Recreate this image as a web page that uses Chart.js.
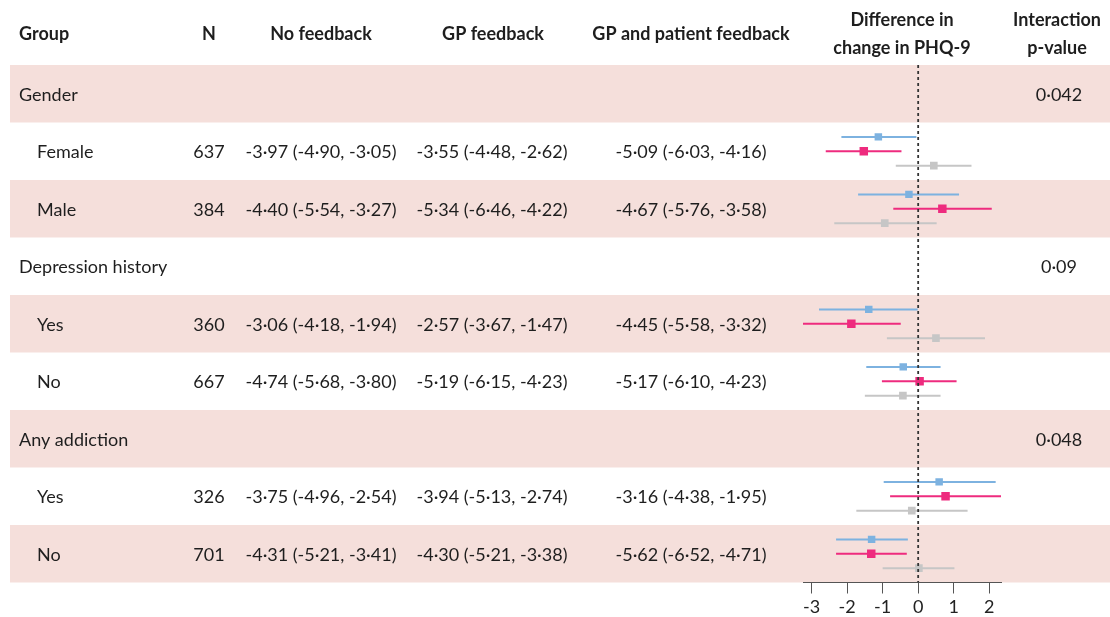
<!DOCTYPE html>
<html>
<head>
<meta charset="utf-8">
<script src="https://cdn.jsdelivr.net/npm/chart.js@4/dist/chart.umd.min.js"></script>
<style>
  html, body { margin: 0; padding: 0; background: #fff; }
  canvas { display: block; }
</style>
</head>
<body>
<canvas id="forest" width="1110" height="617"></canvas>
<script>
// ---- Table rows -------------------------------------------------------
const rowLabels = ['Gender', 'Female', 'Male', 'Depression history', 'Yes', 'No', 'Any addiction', 'Yes', 'No'];
const rowIsHeading = [true, false, false, true, false, false, true, false, false];
const rowN = [null, 637, 384, null, 360, 667, null, 326, 701];

// Mean change in PHQ-9 (95% CI) per arm
const noFbMean = [null, -3.97, -4.40, null, -3.06, -4.74, null, -3.75, -4.31];
const noFbLow  = [null, -4.90, -5.54, null, -4.18, -5.68, null, -4.96, -5.21];
const noFbHigh = [null, -3.05, -3.27, null, -1.94, -3.80, null, -2.54, -3.41];

const gpMean = [null, -3.55, -5.34, null, -2.57, -5.19, null, -3.94, -4.30];
const gpLow  = [null, -4.48, -6.46, null, -3.67, -6.15, null, -5.13, -5.21];
const gpHigh = [null, -2.62, -4.22, null, -1.47, -4.23, null, -2.74, -3.38];

const bothMean = [null, -5.09, -4.67, null, -4.45, -5.17, null, -3.16, -5.62];
const bothLow  = [null, -6.03, -5.76, null, -5.58, -6.10, null, -4.38, -6.52];
const bothHigh = [null, -4.16, -3.58, null, -3.32, -4.23, null, -1.95, -4.71];

const pValueLabels = ['0·042', null, null, '0·09', null, null, '0·048', null, null];

// ---- Differences in change (forest plot) -----------------------------
// GP and patient feedback vs no feedback
const diffBothNoneMean = [null, -1.12, -0.26, null, -1.39, -0.42, null, 0.59, -1.31];
const diffBothNoneLow  = [null, -2.16, -1.69, null, -2.79, -1.46, null, -0.97, -2.31];
const diffBothNoneHigh = [null, -0.05, 1.15, null, 0.00, 0.63, null, 2.18, -0.29];
// GP and patient feedback vs GP feedback
const diffBothGpMean = [null, -1.53, 0.68, null, -1.88, 0.04, null, 0.77, -1.32];
const diffBothGpLow  = [null, -2.60, -0.70, null, -3.26, -1.02, null, -0.79, -2.31];
const diffBothGpHigh = [null, -0.47, 2.07, null, -0.49, 1.08, null, 2.33, -0.32];
// GP feedback vs no feedback
const diffGpNoneMean = [null, 0.44, -0.94, null, 0.50, -0.43, null, -0.18, 0.02];
const diffGpNoneLow  = [null, -0.63, -2.36, null, -0.88, -1.50, null, -1.74, -1.00];
const diffGpNoneHigh = [null, 1.50, 0.52, null, 1.88, 0.63, null, 1.39, 1.02];

const xTickValues = [-3, -2, -1, 0, 1, 2];

// ---- Styling ----------------------------------------------------------
const FONT = 'Lato, "Open Sans", sans-serif';
const TEXT = '#1e1e1e';
const BAND = '#f5dfdb';
const series = [
  { mean: diffBothNoneMean, low: diffBothNoneLow, high: diffBothNoneHigh, offset: 0.25, color: '#7db2e0', radius: 5.3 },
  { mean: diffBothGpMean,   low: diffBothGpLow,   high: diffBothGpHigh,   offset: 0.5,  color: '#ee2b7e', radius: 6.0 },
  { mean: diffGpNoneMean,   low: diffGpNoneLow,   high: diffGpNoneHigh,   offset: 0.75, color: '#c6c6c6', radius: 5.4 }
];

const fmt = v => v.toFixed(2).replace('.', '·');
const ciText = (m, l, h, i) => m[i] == null ? '' : `${fmt(m[i])} (${fmt(l[i])}, ${fmt(h[i])})`;

const datasets = [];
// dashed reference line at zero
datasets.push({
  type: 'line',
  data: [{ x: 0, y: 0 }, { x: 0, y: rowLabels.length }],
  borderColor: '#333',
  borderWidth: 1.8,
  borderDash: [3, 3],
  pointRadius: 0,
  order: 0
});
series.forEach(s => {
  const points = [], bars = [];
  s.mean.forEach((m, i) => {
    if (m == null) return;
    points.push({ x: m, y: i + s.offset });
    bars.push({ x: [s.low[i], s.high[i]], y: i + s.offset });
  });
  datasets.push({
    type: 'scatter',
    data: points,
    pointStyle: 'rect',
    pointRadius: s.radius,
    pointBackgroundColor: s.color,
    pointBorderWidth: 0,
    order: 1
  });
  datasets.push({
    type: 'bar',
    indexAxis: 'y',
    grouped: false,
    data: bars,
    backgroundColor: s.color,
    borderWidth: 0,
    maxBarThickness: 2,
    order: 2
  });
});

// Background bands and the table text around the plot
const tablePlugin = {
  id: 'table',
  beforeDraw(chart) {
    const { ctx } = chart;
    const y = chart.scales.y;
    ctx.save();
    ctx.fillStyle = '#fff';
    ctx.fillRect(0, 0, chart.width, chart.height);
    ctx.fillStyle = BAND;
    rowLabels.forEach((_, i) => {
      if (i % 2 !== 0) return;
      const top = y.getPixelForValue(i);
      const bottom = y.getPixelForValue(i + 1);
      ctx.fillRect(10, top, chart.width - 10, bottom - top);
    });
    ctx.restore();
  },
  afterDraw(chart) {
    const { ctx } = chart;
    const y = chart.scales.y;
    ctx.save();
    ctx.fillStyle = TEXT;
    ctx.textBaseline = 'middle';

    // header
    ctx.font = `bold 18px ${FONT}`;
    ctx.textAlign = 'left';
    ctx.fillText('Group', 19, 34);
    ctx.textAlign = 'center';
    ctx.fillText('N', 209, 34);
    ctx.fillText('No feedback', 321, 34);
    ctx.fillText('GP feedback', 493, 34);
    ctx.fillText('GP and patient feedback', 691, 34);
    ctx.fillText('Difference in', 902, 20);
    ctx.fillText('change in PHQ-9', 902, 48);
    ctx.fillText('Interaction', 1057, 20);
    ctx.fillText('p-value', 1057, 48);

    // rows
    ctx.font = `18px ${FONT}`;
    rowLabels.forEach((label, i) => {
      const cy = y.getPixelForValue(i + 0.5) + 1;
      ctx.textAlign = 'left';
      ctx.fillText(label, rowIsHeading[i] ? 19 : 37, cy);
      ctx.textAlign = 'center';
      if (rowN[i] != null) ctx.fillText(String(rowN[i]), 209, cy);
      ctx.fillText(ciText(noFbMean, noFbLow, noFbHigh, i), 321, cy);
      ctx.fillText(ciText(gpMean, gpLow, gpHigh, i), 492, cy);
      ctx.fillText(ciText(bothMean, bothLow, bothHigh, i), 691, cy);
      if (pValueLabels[i]) ctx.fillText(pValueLabels[i], 1059, cy);
    });
    ctx.restore();
  }
};

new Chart(document.getElementById('forest'), {
  type: 'scatter',
  data: { datasets },
  options: {
    responsive: false,
    animation: false,
    events: [],
    layout: { padding: { left: 803, right: 109, top: 65, bottom: 0 } },
    plugins: { legend: { display: false }, tooltip: { enabled: false } },
    scales: {
      x: {
        type: 'linear',
        min: -3.24,
        max: 2.33,
        offset: false,
        afterBuildTicks: scale => { scale.ticks = xTickValues.map(v => ({ value: v })); },
        afterFit: scale => { scale.height = 34.5; },
        border: { display: true, color: '#555', width: 1 },
        grid: { drawOnChartArea: false, drawTicks: true, tickLength: 11, color: '#555' },
        ticks: { font: { family: FONT, size: 18 }, color: '#222', padding: 3 }
      },
      y: {
        type: 'linear',
        display: false,
        reverse: true,
        offset: false,
        min: 0,
        max: rowLabels.length
      }
    }
  },
  plugins: [tablePlugin]
});
</script>
</body>
</html>
